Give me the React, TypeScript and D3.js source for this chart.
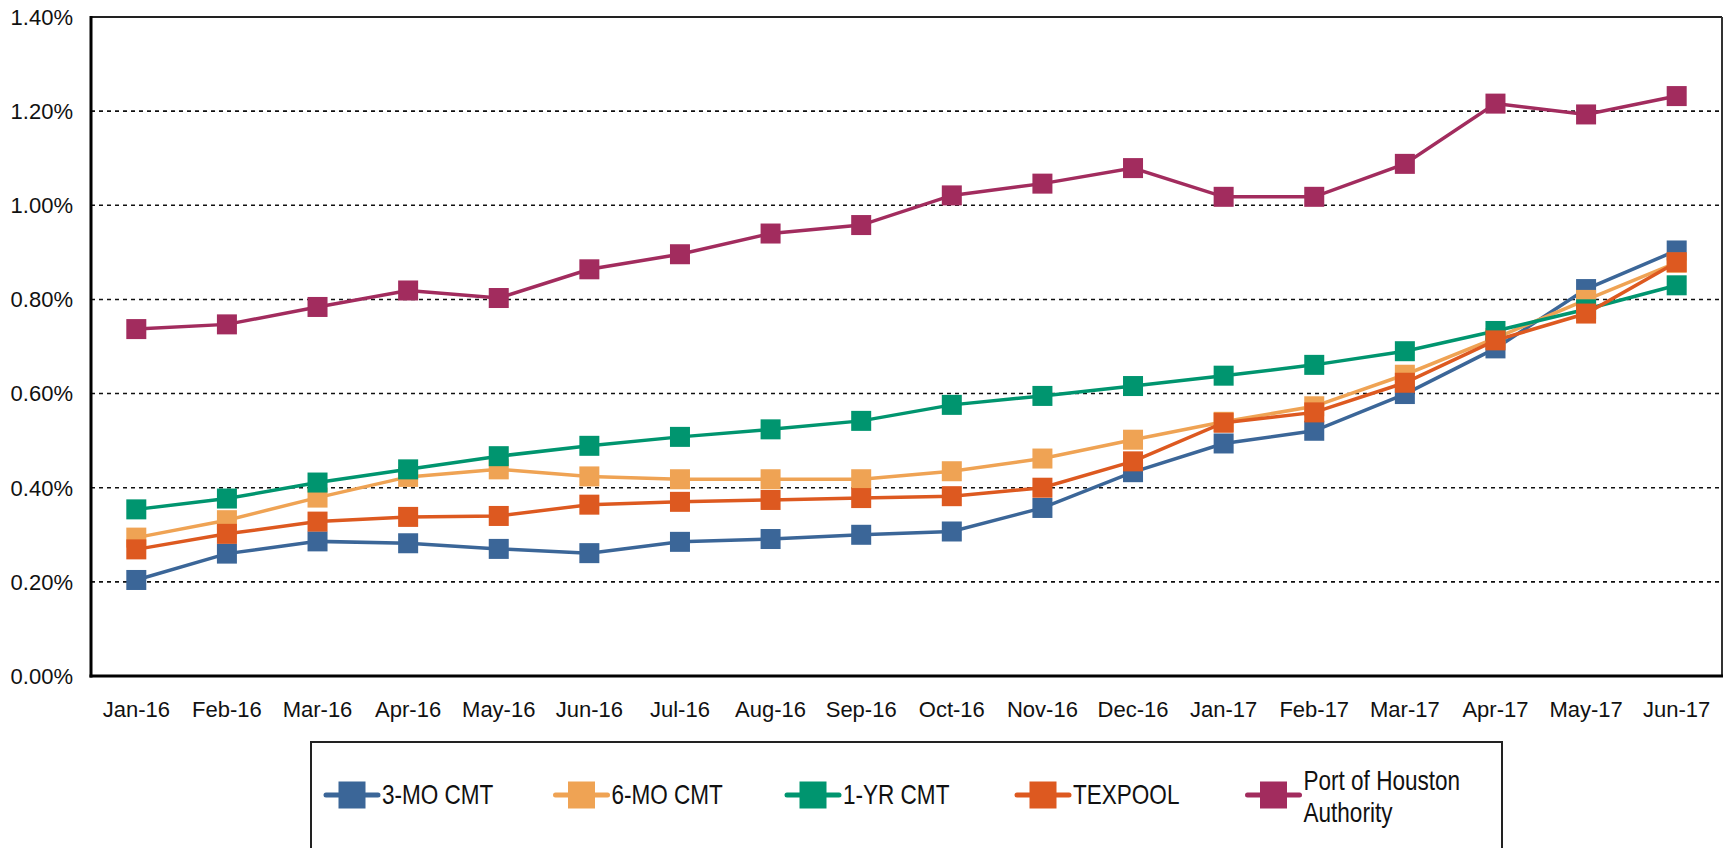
import React from "react";
import * as d3 from "d3";

const months = [
  "Jan-16", "Feb-16", "Mar-16", "Apr-16", "May-16", "Jun-16", "Jul-16", "Aug-16", "Sep-16",
  "Oct-16", "Nov-16", "Dec-16", "Jan-17", "Feb-17", "Mar-17", "Apr-17", "May-17", "Jun-17",
];

const threeMoCmt = [0.204, 0.26, 0.286, 0.282, 0.27, 0.261, 0.285, 0.291, 0.3, 0.307, 0.357, 0.433, 0.494, 0.521, 0.599, 0.696, 0.822, 0.904];
const sixMoCmt = [0.294, 0.331, 0.379, 0.423, 0.439, 0.424, 0.418, 0.418, 0.418, 0.435, 0.462, 0.502, 0.54, 0.573, 0.64, 0.718, 0.799, 0.878];
const oneYrCmt = [0.354, 0.377, 0.411, 0.439, 0.467, 0.489, 0.508, 0.524, 0.542, 0.576, 0.595, 0.616, 0.638, 0.661, 0.69, 0.733, 0.779, 0.83];
const texpool = [0.269, 0.302, 0.328, 0.338, 0.34, 0.364, 0.37, 0.374, 0.378, 0.382, 0.4, 0.456, 0.538, 0.56, 0.623, 0.713, 0.77, 0.879];
const portOfHouston = [0.737, 0.747, 0.784, 0.819, 0.803, 0.864, 0.896, 0.94, 0.958, 1.021, 1.046, 1.079, 1.018, 1.018, 1.088, 1.216, 1.193, 1.232];

const yTicks = [0, 0.2, 0.4, 0.6, 0.8, 1.0, 1.2, 1.4];

const seriesNames = ["3-MO CMT", "6-MO CMT", "1-YR CMT", "TEXPOOL", "Port of Houston Authority"];
const seriesColors = ["#3B6698", "#EFA354", "#00956F", "#DD5920", "#A22C5E"];
const seriesValues = [threeMoCmt, sixMoCmt, oneYrCmt, texpool, portOfHouston];

const W = 1730;
const H = 848;
const plot = { left: 91, right: 1722, top: 17, bottom: 676 };

export default function App() {
  const x = d3.scaleBand<string>().domain(months).range([plot.left, plot.right]);
  const y = d3.scaleLinear().domain([0, 1.4]).range([plot.bottom, plot.top]);
  const cx = (m: string) => (x(m) as number) + x.bandwidth() / 2;
  const line = d3
    .line<number>()
    .x((_, i) => cx(months[i]))
    .y((v) => y(v));

  const ms = 20;
  const legendX = [352, 581.5, 813, 1043, 1273.5];
  const legendY = 795;
  const lms = 27;
  const font = "'Liberation Sans', Arial, sans-serif";

  return (
    <svg
      width={W}
      height={H}
      style={{ position: "absolute", left: 0, top: 0, background: "#fff" }}
      fontFamily={font}
    >
      <rect x={0} y={0} width={W} height={H} fill="#fff" />
      {/* gridlines */}
      {yTicks
        .filter((t) => t > 0 && t < 1.4)
        .map((t) => (
          <line
            key={"g" + t}
            x1={plot.left}
            x2={plot.right}
            y1={y(t)}
            y2={y(t)}
            stroke="#111"
            strokeWidth={1.6}
            strokeDasharray="4,4"
          />
        ))}
      {/* frame */}
      <line x1={plot.left} x2={plot.right} y1={plot.top} y2={plot.top} stroke="#222" strokeWidth={2} />
      <line x1={plot.right} x2={plot.right} y1={plot.top} y2={plot.bottom} stroke="#333" strokeWidth={2} />
      <line x1={plot.left} x2={plot.left} y1={plot.top - 1} y2={plot.bottom + 1.5} stroke="#000" strokeWidth={3} />
      <line x1={plot.left - 1.5} x2={plot.right + 1} y1={plot.bottom} y2={plot.bottom} stroke="#000" strokeWidth={3} />

      {/* y tick labels */}
      {yTicks.map((t) => (
        <text
          key={"yt" + t}
          x={73}
          y={y(t)}
          dy="0.36em"
          textAnchor="end"
          fontSize={22}
          fill="#111"
        >
          {d3.format(".2f")(t) + "%"}
        </text>
      ))}
      {/* x tick labels */}
      {months.map((m) => (
        <text key={"xt" + m} x={cx(m)} y={717} textAnchor="middle" fontSize={22} fill="#111">
          {m}
        </text>
      ))}

      {/* series */}
      {seriesValues.map((vals, si) => (
        <g key={"s" + si}>
          <path d={line(vals) || ""} fill="none" stroke={seriesColors[si]} strokeWidth={3.5} />
          {vals.map((v, i) => (
            <rect
              key={i}
              x={cx(months[i]) - ms / 2}
              y={y(v) - ms / 2}
              width={ms}
              height={ms}
              fill={seriesColors[si]}
            />
          ))}
        </g>
      ))}

      {/* legend */}
      <rect x={311} y={742} width={1191} height={130} fill="none" stroke="#222" strokeWidth={2} />
      {seriesNames.map((name, i) => {
        const lx = legendX[i];
        const lines = i === 4 ? ["Port of Houston", "Authority"] : [name];
        return (
          <g key={"l" + i}>
            <line
              x1={lx - 26}
              x2={lx + 26}
              y1={legendY}
              y2={legendY}
              stroke={seriesColors[i]}
              strokeWidth={5}
              strokeLinecap="round"
            />
            <rect x={lx - lms / 2} y={legendY - lms / 2} width={lms} height={lms} fill={seriesColors[i]} />
            {lines.map((t, k) => {
              const by = lines.length === 1 ? 804 : k === 0 ? 790 : 822;
              return (
                <text
                  key={k}
                  transform={`translate(${lx + 30},${by}) scale(0.82,1)`}
                  fontSize={27.5}
                  fill="#111"
                >
                  {t}
                </text>
              );
            })}
          </g>
        );
      })}
    </svg>
  );
}
